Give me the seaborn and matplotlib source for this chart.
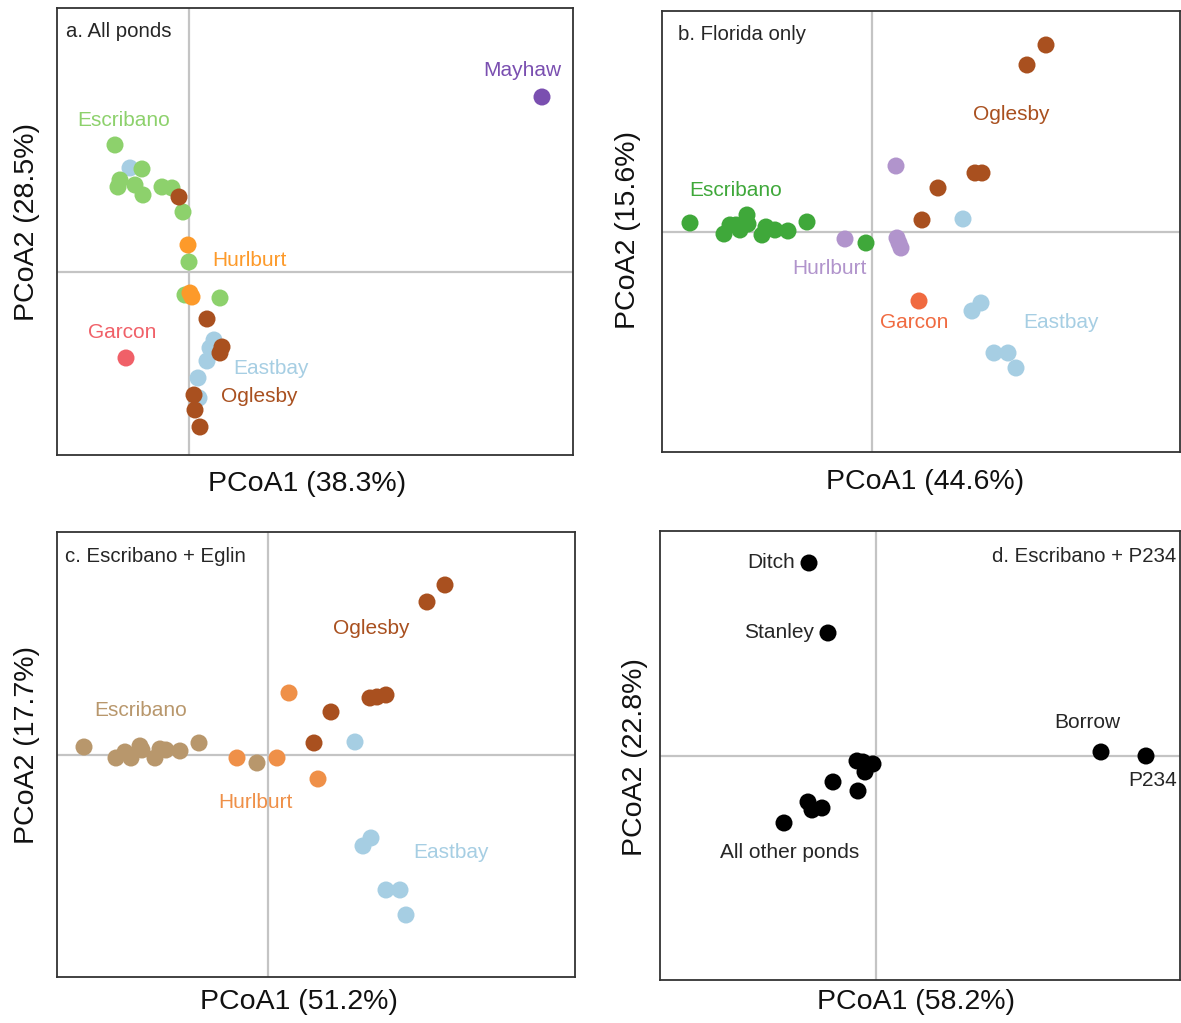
import matplotlib
matplotlib.use("Agg")
import matplotlib.pyplot as plt
import seaborn as sns
import pandas as pd

sns.set_style("white")
plt.rcParams['font.family'] = ['Liberation Sans', 'DejaVu Sans']

# ---------------- data ----------------
# Panel a: All ponds
a_x = [-0.59, -0.74, -0.47, -0.69, -0.71, -0.54, -0.46, -0.27, -0.17, -0.06, 0.00, -0.04, 0.31,
       -0.10, 0.25, 0.21, 0.18, 0.09, 0.10,
       -0.01, 0.01, 0.03,
       0.18, 0.33, 0.31, 0.05, 0.06, 0.11,
       -0.63, 3.53]
a_y = [1.04, 1.27, 1.03, 0.92, 0.85, 0.87, 0.77, 0.85, 0.84, 0.60, 0.10, -0.23, -0.26,
       0.75, -0.68, -0.76, -0.89, -1.06, -1.26,
       0.27, -0.21, -0.25,
       -0.47, -0.75, -0.81, -1.23, -1.38, -1.55,
       -0.86, 1.75]
a_g = (["Eastbay"] + ["Escribano"] * 12 + ["Oglesby"] + ["Eastbay"] * 5 + ["Hurlburt"] * 3
       + ["Oglesby"] * 6 + ["Garcon", "Mayhaw"])

# Panel b: Florida only
b_x = [-1.82, -1.48, -1.42, -1.36, -1.32, -1.25, -1.24, -1.10, -1.06, -0.97, -0.84, -0.65, -0.06,
       0.24, -0.27, 0.25, 0.27, 0.29,
       1.74, 1.55, 1.03, 1.10, 0.66, 0.50,
       0.91, 1.09, 1.00, 1.22, 1.36, 1.44,
       0.47]
b_y = [0.09, -0.02, 0.07, 0.07, 0.02, 0.17, 0.08, -0.03, 0.05, 0.02, 0.01, 0.10, -0.11,
       0.66, -0.07, -0.06, -0.11, -0.16,
       1.87, 1.67, 0.59, 0.59, 0.44, 0.12,
       0.13, -0.71, -0.79, -1.21, -1.21, -1.36,
       -0.69]
b_g = ["Escribano"] * 13 + ["Hurlburt"] * 5 + ["Oglesby"] * 6 + ["Eastbay"] * 6 + ["Garcon"]

# Panel c: Escribano + Eglin
c_x = [-1.84, -1.52, -1.43, -1.37, -1.28, -1.26, -1.13, -1.08, -1.02, -0.88, -0.69, -0.11,
       0.21, -0.31, 0.09, 0.50,
       1.77, 1.59, 1.02, 1.09, 1.18, 0.63, 0.46,
       0.87, 1.03, 0.95, 1.18, 1.32, 1.38]
c_y = [0.08, -0.03, 0.03, -0.03, 0.09, 0.05, -0.03, 0.06, 0.05, 0.04, 0.12, -0.08,
       0.62, -0.03, -0.03, -0.24,
       1.70, 1.53, 0.57, 0.58, 0.60, 0.43, 0.12,
       0.13, -0.83, -0.91, -1.35, -1.35, -1.60]
c_g = ["Escribano"] * 12 + ["Hurlburt"] * 4 + ["Oglesby"] * 7 + ["Eastbay"] * 6

# Panel d: Escribano + P234
d_x = [-0.67, -0.48, 2.25, 2.70,
       -0.19, -0.13, -0.03, -0.11, -0.43, -0.18, -0.68, -0.64, -0.54, -0.92]
d_y = [1.93, 1.23, 0.04, 0.00,
       -0.05, -0.06, -0.08, -0.16, -0.26, -0.35, -0.46, -0.54, -0.52, -0.67]
d_g = ["Ditch", "Stanley", "Borrow", "P234"] + ["Other"] * 10

axis_pct_a = ("PCoA1 (38.3%)", "PCoA2 (28.5%)")
axis_pct_b = ("PCoA1 (44.6%)", "PCoA2 (15.6%)")
axis_pct_c = ("PCoA1 (51.2%)", "PCoA2 (17.7%)")
axis_pct_d = ("PCoA1 (58.2%)", "PCoA2 (22.8%)")

# ---------------- styles ----------------
pal_a = {"Escribano": "#8dd16c", "Eastbay": "#a6cee3", "Oglesby": "#a9501f",
         "Hurlburt": "#fd9a2a", "Garcon": "#f06068", "Mayhaw": "#7a4fb0"}
pal_b = {"Escribano": "#3fa83a", "Hurlburt": "#b194cc", "Oglesby": "#a9501f",
         "Eastbay": "#a6cee3", "Garcon": "#f06a40"}
pal_c = {"Escribano": "#b8976c", "Hurlburt": "#ef9048", "Oglesby": "#a9501f",
         "Eastbay": "#a6cee3"}
pal_d = {k: "black" for k in ["Ditch", "Stanley", "Borrow", "P234", "Other"]}

W, H = 1181, 1023
fig = plt.figure(figsize=(W / 100, H / 100), dpi=100)


def make_ax(l, t, r, b):
    return fig.add_axes([l / W, 1 - b / H, (r - l) / W, (b - t) / H])


def panel(ax, x, y, g, pal, xlim, ylim, labels, xl_pos, yl_pos):
    ax.axhline(0, color="#c4c4c4", lw=1.6, zorder=0)
    ax.axvline(0, color="#c4c4c4", lw=1.6, zorder=0)
    df = pd.DataFrame({"x": x, "y": y, "g": g})
    sns.scatterplot(data=df, x="x", y="y", hue="g", palette=pal, s=150,
                    linewidth=0, legend=False, ax=ax, zorder=3)
    ax.set_xlim(*xlim)
    ax.set_ylim(*ylim)
    ax.set_xticks([])
    ax.set_yticks([])
    for sp in ax.spines.values():
        sp.set_color("#333333")
        sp.set_linewidth(1.3)
    ax.set_xlabel(labels[0], fontsize=20.5, color="#111111")
    ax.set_ylabel(labels[1], fontsize=20.5, color="#111111")
    ax.xaxis.set_label_coords(*xl_pos)
    ax.yaxis.set_label_coords(*yl_pos)
    ax.xaxis.label.set_verticalalignment("center")
    ax.yaxis.label.set_verticalalignment("center")


# Panel a
ax = make_ax(57, 8, 573, 455)
panel(ax, a_x, a_y, a_g, pal_a, (-1.32, 3.84), (-1.83, 2.64), axis_pct_a,
      (0.484, -0.065), (-0.058, 0.521))
ax.text(0.017, 0.947, "a. All ponds", transform=ax.transAxes, fontsize=14.7, ha="left", va="center")
ax.text(3.33, 2.02, "Mayhaw", color=pal_a["Mayhaw"], fontsize=15, ha="center", va="center")
ax.text(-0.65, 1.52, "Escribano", color=pal_a["Escribano"], fontsize=15, ha="center", va="center")
ax.text(0.23, 0.12, "Hurlburt", color=pal_a["Hurlburt"], fontsize=15, ha="left", va="center")
ax.text(-0.67, -0.61, "Garcon", color=pal_a["Garcon"], fontsize=15, ha="center", va="center")
ax.text(0.44, -0.96, "Eastbay", color=pal_a["Eastbay"], fontsize=15, ha="left", va="center")
ax.text(0.32, -1.25, "Oglesby", color=pal_a["Oglesby"], fontsize=15, ha="left", va="center")

# Panel b
ax = make_ax(662, 11, 1180, 452)
panel(ax, b_x, b_y, b_g, pal_b, (-2.10, 3.08), (-2.20, 2.21), axis_pct_b,
      (0.508, -0.068), (-0.066, 0.503))
ax.text(0.031, 0.946, "b. Florida only", transform=ax.transAxes, fontsize=14.7, ha="left", va="center")
ax.text(1.39, 1.17, "Oglesby", color=pal_b["Oglesby"], fontsize=15, ha="center", va="center")
ax.text(-1.36, 0.41, "Escribano", color=pal_b["Escribano"], fontsize=15, ha="center", va="center")
ax.text(-0.43, -0.36, "Hurlburt", color=pal_b["Hurlburt"], fontsize=15, ha="center", va="center")
ax.text(0.42, -0.91, "Garcon", color=pal_b["Garcon"], fontsize=15, ha="center", va="center")
ax.text(1.89, -0.90, "Eastbay", color=pal_b["Eastbay"], fontsize=15, ha="center", va="center")

# Panel c
ax = make_ax(57, 532, 575, 977)
panel(ax, c_x, c_y, c_g, pal_c, (-2.11, 3.07), (-2.22, 2.23), axis_pct_c,
      (0.467, -0.056), (-0.058, 0.521))
ax.text(0.015, 0.946, "c. Escribano + Eglin", transform=ax.transAxes, fontsize=14.7, ha="left", va="center")
ax.text(1.03, 1.26, "Oglesby", color=pal_c["Oglesby"], fontsize=15, ha="center", va="center")
ax.text(-1.27, 0.45, "Escribano", color=pal_c["Escribano"], fontsize=15, ha="center", va="center")
ax.text(-0.13, -0.47, "Hurlburt", color=pal_c["Hurlburt"], fontsize=15, ha="center", va="center")
ax.text(1.83, -0.98, "Eastbay", color=pal_c["Eastbay"], fontsize=15, ha="center", va="center")

# Panel d
ax = make_ax(660, 531, 1180, 980)
panel(ax, d_x, d_y, d_g, pal_d, (-2.16, 3.04), (-2.24, 2.25), axis_pct_d,
      (0.492, -0.049), (-0.048, 0.497))
ax.text(0.992, 0.944, "d. Escribano + P234", transform=ax.transAxes, fontsize=14.7, ha="right", va="center")
ax.text(-0.81, 1.93, "Ditch", fontsize=15, ha="right", va="center")
ax.text(-0.62, 1.24, "Stanley", fontsize=15, ha="right", va="center")
ax.text(2.11, 0.34, "Borrow", fontsize=15, ha="center", va="center")
ax.text(2.77, -0.24, "P234", fontsize=15, ha="center", va="center")
ax.text(-0.86, -0.96, "All other ponds", fontsize=15, ha="center", va="center")

fig.savefig("out.png", dpi=100, facecolor="white")
